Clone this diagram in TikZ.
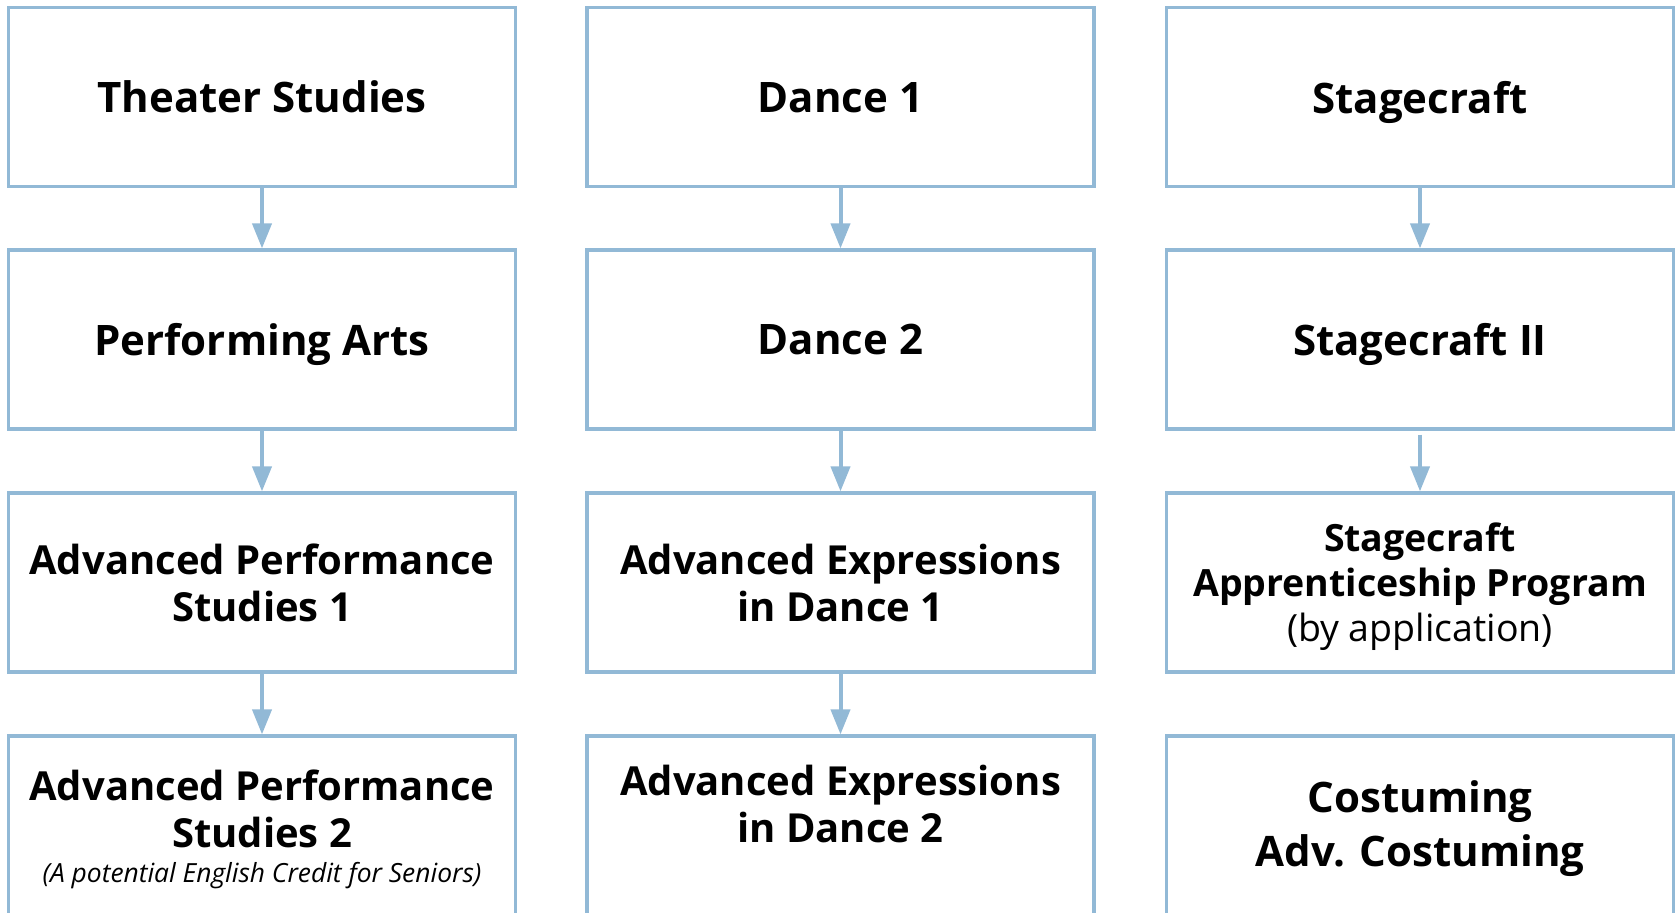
\documentclass[tikz,border=0pt]{standalone}
\usepackage{fontspec}
\setmainfont{Open Sans}
\usetikzlibrary{arrows.meta}
\definecolor{boxblue}{RGB}{146,185,214}
\tikzset{
  course/.style={draw=boxblue, line width=1.6pt, rectangle, minimum width=253.5pt, minimum height=89.5pt, inner sep=0pt, align=center, font=\bfseries\fontsize{21pt}{26pt}\selectfont},
  oneline/.style={text depth=0pt},
  twoline/.style={font=\bfseries\fontsize{20pt}{23.5pt}\selectfont},
  label/.style={align=center, inner sep=0pt},
  flow/.style={draw=boxblue, line width=2pt, -{Triangle[width=9.5pt,length=12.5pt]}}
}
\begin{document}
\begin{tikzpicture}[x=0.5pt,y=-0.5pt]
\useasboundingbox (0,0) rectangle (1677,912);
% row 1
\node[course,oneline] (a1) at (262,97) {Theater Studies};
\node[course,oneline] (b1) at (840.5,97) {Dance 1};
\node[course,oneline] (c1) at (1420,97) {Stagecraft};
% row 2
\node[course,oneline] (a2) at (262,339.5) {Performing Arts};
\node[course,oneline] (b2) at (840.5,339.5) {Dance 2};
\node[course,oneline] (c2) at (1420,339.5) {Stagecraft II};
% row 3
\node[course,twoline] (a3) at (262,582.5) {Advanced Performance\\Studies 1};
\node[course,twoline] (b3) at (840.5,582.5) {Advanced Expressions\\in Dance 1};
\node[course] (c3) at (1420,582.5) {};
\node[label,font=\bfseries\fontsize{18.75pt}{22.5pt}\selectfont] (tc3) at (1420,587) {Stagecraft\\Apprenticeship Program\\{\mdseries (by application)}};
% row 4
\node[course] (a4) at (262,825.5) {};
\node[course] (b4) at (840.5,825.5) {};
\node[course] (c4) at (1420,825.5) {};
\node[label,font=\bfseries\fontsize{20pt}{23.5pt}\selectfont] (ta4) at (262,809) {Advanced Performance\\Studies 2};
\node[label,font=\itshape\fontsize{13.2pt}{15pt}\selectfont] (sa4) at (262,876) {(A potential English Credit for Seniors)};
\node[label,font=\bfseries\fontsize{20pt}{23.5pt}\selectfont] (tb4) at (840.5,804) {Advanced Expressions\\in Dance 2};
\node[label,font=\bfseries\fontsize{21pt}{27pt}\selectfont] (tc4) at (1420,829) {Costuming\\Adv. Costuming};
% arrows
\draw[flow] (a1) -- (a2);
\draw[flow] (a2) -- (a3);
\draw[flow] (a3) -- (a4);
\draw[flow] (b1) -- (b2);
\draw[flow] (b2) -- (b3);
\draw[flow] (b3) -- (b4);
\draw[flow] (c1) -- (c2);
\draw[flow, shorten <=2pt] (c2) -- (c3);
\end{tikzpicture}
\end{document}
